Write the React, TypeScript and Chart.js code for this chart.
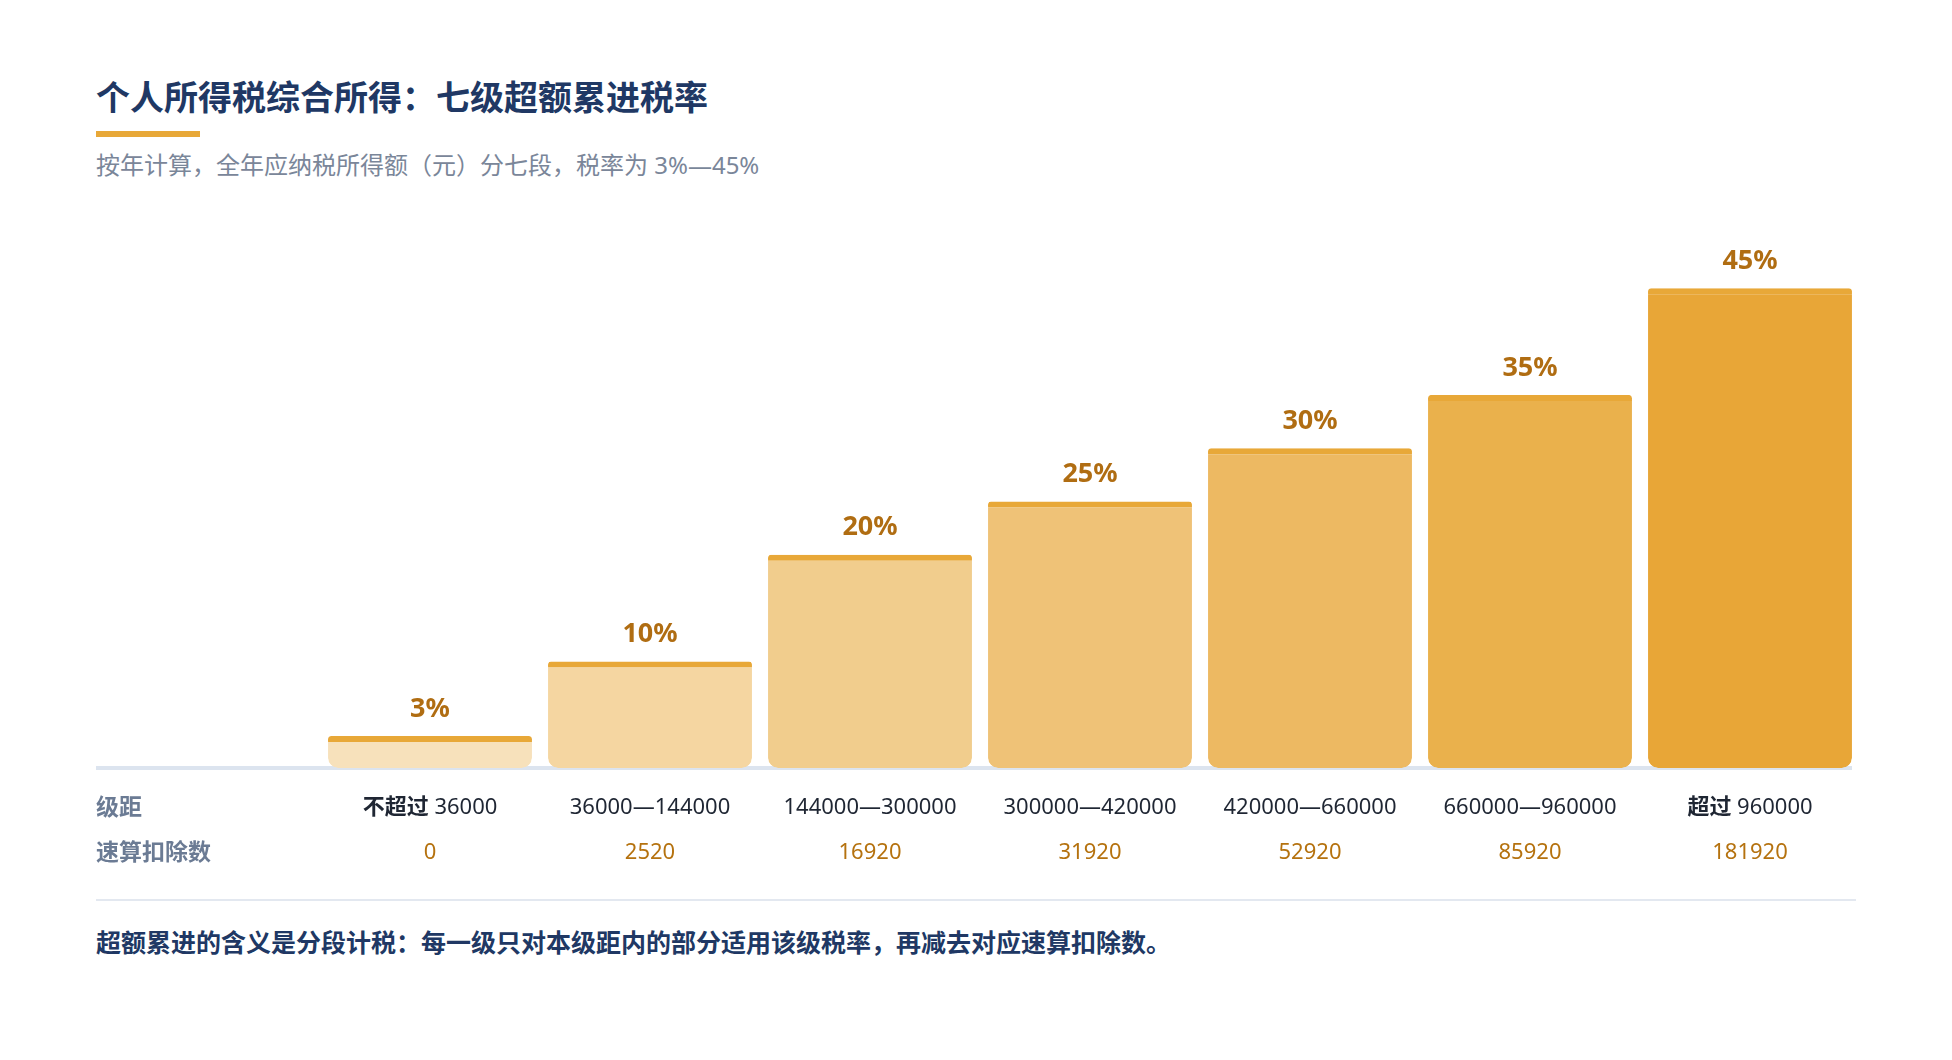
import React, { useEffect, useRef } from 'react'
import { Chart, registerables } from 'chart.js'

Chart.register(...registerables)

const FONT = '"Noto Sans", "Noto Sans CJK SC", sans-serif'

// 税率（%）
const rates = [3, 10, 20, 25, 30, 35, 45]
// 级距：前缀 + 区间（元）
const bracketPrefix = ['不超过', '', '', '', '', '', '超过']
const bracketRange = [
  '36000',
  '36000—144000',
  '144000—300000',
  '300000—420000',
  '420000—660000',
  '660000—960000',
  '960000',
]
// 速算扣除数
const deductions = [0, 2520, 16920, 31920, 52920, 85920, 181920]
const rowTitles = ['级距', '速算扣除数']

const categories = bracketRange.map((r, i) => (bracketPrefix[i] ? bracketPrefix[i] + ' ' + r : r))

const barColors = ['#f7e1bb', '#f5d6a1', '#f1cd8d', '#efc277', '#edb962', '#eab14c', '#e8a637']

const tablePlugin = {
  id: 'taxTable',
  beforeDatasetsDraw(chart: any) {
    const { ctx, chartArea } = chart
    const meta = chart.getDatasetMeta(0)
    const last = meta.data[meta.data.length - 1]
    const right = last.x + last.width / 2
    ctx.save()
    ctx.fillStyle = '#dce4ef'
    ctx.fillRect(0, chartArea.bottom - 2, right, 4)
    ctx.restore()
  },
  afterDatasetsDraw(chart: any) {
    const { ctx, chartArea, scales } = chart
    const meta = chart.getDatasetMeta(0)
    ctx.save()
    ctx.textBaseline = 'middle'

    // 柱顶税率
    ctx.textAlign = 'center'
    ctx.font = `bold 27px ${FONT}`
    ctx.fillStyle = '#b06d12'
    meta.data.forEach((bar: any, i: number) => {
      ctx.fillText(rates[i] + '%', bar.x, bar.y - 27)
    })

    const row1 = chartArea.bottom + 40
    const row2 = chartArea.bottom + 85

    // 行标题
    ctx.textAlign = 'left'
    ctx.font = `bold 23px ${FONT}`
    ctx.fillStyle = '#6b7b94'
    ctx.fillText(rowTitles[0], 0, row1)
    ctx.fillText(rowTitles[1], 0, row2)

    // 级距
    bracketRange.forEach((range, i) => {
      const x = scales.x.getPixelForValue(i)
      const prefix = bracketPrefix[i] ? bracketPrefix[i] + ' ' : ''
      ctx.font = `bold 22px ${FONT}`
      const pw = ctx.measureText(prefix).width
      ctx.font = `22px ${FONT}`
      const rw = ctx.measureText(range).width
      let left = x - (pw + rw) / 2
      ctx.fillStyle = '#1f2633'
      if (prefix) {
        ctx.font = `bold 22px ${FONT}`
        ctx.fillText(prefix, left, row1)
        left += pw
      }
      ctx.font = `22px ${FONT}`
      ctx.fillText(range, left, row1)
    })

    // 速算扣除数
    ctx.textAlign = 'center'
    ctx.font = `22px ${FONT}`
    ctx.fillStyle = '#b5720f'
    deductions.forEach((d, i) => {
      ctx.fillText(String(d), scales.x.getPixelForValue(i), row2)
    })
    ctx.restore()
  },
}

const TaxChart: React.FC = () => {
  const chartRef = useRef<HTMLCanvasElement | null>(null)

  useEffect(() => {
    if (!chartRef.current) return
    const ctx = chartRef.current.getContext('2d')
    if (!ctx) return

    const myChart = new Chart(ctx, {
      type: 'bar',
      data: {
        labels: categories,
        datasets: [
          {
            data: rates,
            backgroundColor: barColors,
            borderColor: '#e8a838',
            borderWidth: { top: 6, right: 0, bottom: 0, left: 0 },
            borderSkipped: false,
            borderRadius: { topLeft: 3, topRight: 3, bottomLeft: 10, bottomRight: 10 },
            barPercentage: 0.927,
            categoryPercentage: 1,
          },
        ],
      },
      options: {
        responsive: true,
        maintainAspectRatio: false,
        animation: false,
        events: [],
        layout: { padding: { left: 224, right: 0, top: 21, bottom: 112 } },
        plugins: { legend: { display: false }, tooltip: { enabled: false } },
        scales: {
          x: { display: false },
          y: { display: false, min: 0, max: 50 },
        },
      },
      plugins: [tablePlugin],
    })

    return () => {
      myChart.destroy()
    }
  }, [])

  return (
    <div style={{ position: 'absolute', left: 88, top: 206, width: 1764, height: 666 }}>
      <canvas ref={chartRef} />
    </div>
  )
}

const App: React.FC = () => {
  return (
    <div style={{ position: 'relative', width: 1936, height: 1040, fontFamily: FONT }}>
      <div
        style={{
          position: 'absolute',
          left: 88,
          top: 72,
          fontSize: 34,
          lineHeight: '34px',
          fontWeight: 'bold',
          color: '#203864',
          whiteSpace: 'nowrap',
        }}
      >
        个人所得税综合所得：七级超额累进税率
      </div>
      <div style={{ position: 'absolute', left: 88, top: 123, width: 104, height: 6, background: '#e8a838' }} />
      <div
        style={{
          position: 'absolute',
          left: 88,
          top: 145,
          fontSize: 24,
          lineHeight: '24px',
          color: '#7a8699',
          whiteSpace: 'nowrap',
        }}
      >
        按年计算，全年应纳税所得额（元）分七段，税率为 3%—45%
      </div>
      <TaxChart />
      <div style={{ position: 'absolute', left: 88, top: 891, width: 1760, height: 2, background: '#e3e8f0' }} />
      <div
        style={{
          position: 'absolute',
          left: 88,
          top: 922,
          fontSize: 25,
          lineHeight: '25px',
          fontWeight: 'bold',
          color: '#203864',
          whiteSpace: 'nowrap',
        }}
      >
        超额累进的含义是分段计税：每一级只对本级距内的部分适用该级税率，再减去对应速算扣除数。
      </div>
    </div>
  )
}

export default App
